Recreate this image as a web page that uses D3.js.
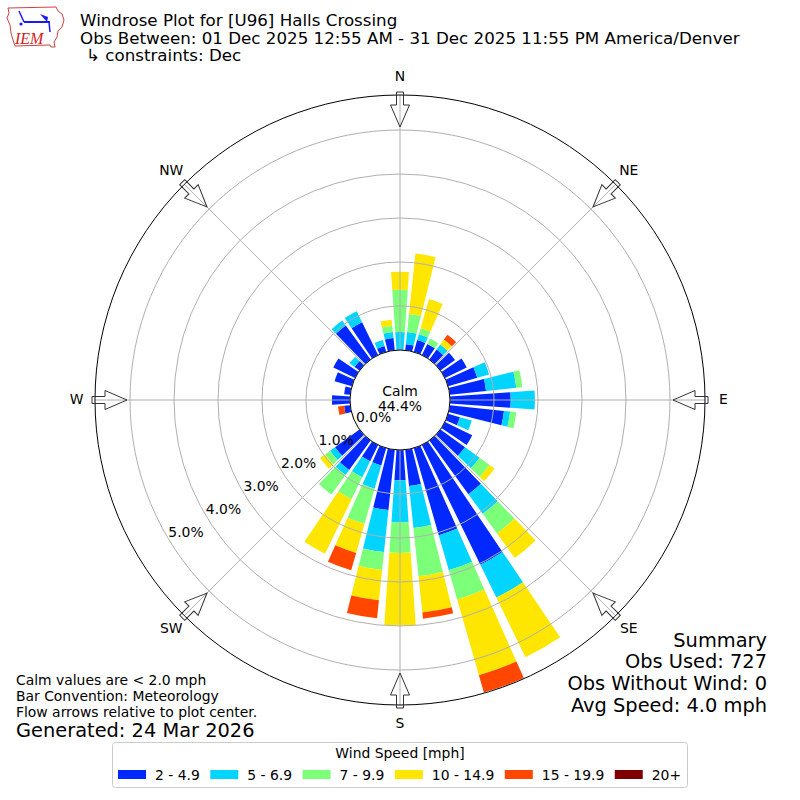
<!DOCTYPE html>
<html>
<head>
<meta charset="utf-8">
<script src="https://cdn.jsdelivr.net/npm/d3@7"></script>
<style>
  body { margin: 0; background: #fff; }
  text { font-family: "DejaVu Sans", sans-serif; fill: #000; }
</style>
</head>
<body>
<script>
// direction bins (degrees, meteorological)
var dirs = [0,10,20,30,40,50,60,70,80,90,100,110,120,130,140,150,160,170,
            180,190,200,210,220,230,240,250,260,270,280,290,300,310,320,330,340,350];

var spd2  = [0,0.14,0.28,0.28,0.28,0.41,0.55,0.69,0.83,1.38,1.24,0.28,0.69,0.69,1.51,3.03,2.06,0.83,
             0.69,1.38,0.41,0.41,0.83,0.69,0,0,0.14,0.41,0.14,0.41,0.55,0.14,0.96,0.83,0.14,0.28];
var spd5  = [0.41,0.28,0.14,0,0.14,0,0,0.28,0.69,0.55,0.14,0.28,0,0.41,0.55,0.83,0.83,0.96,
             0.96,0.96,0.55,0.41,0.14,0.14,0,0,0,0,0,0,0,0.14,0.14,0.28,0.14,0.14];
var spd7  = [0.96,0.41,0.14,0.14,0,0,0,0,0.14,0,0.14,0,0,0.28,0.55,0,0.69,1.10,
             0.69,0.41,0.83,0.55,0.55,0.14,0,0,0,0,0,0,0,0,0,0,0,0.14];
var spd10 = [0.41,1.38,0.69,0,0.14,0,0,0,0,0,0,0,0,0.14,0.69,1.51,1.79,0.83,
             1.65,0.69,0.69,1.38,0,0.14,0,0,0,0,0,0,0,0,0,0,0,0.14];
var spd15 = [0,0,0,0,0.14,0,0,0,0,0,0,0,0,0,0,0,0.41,0.14,
             0,0.41,0.41,0,0,0,0,0,0.14,0,0,0,0,0,0,0,0,0];
var spd20 = [0,0,0,0,0,0,0,0,0,0,0,0,0,0,0,0,0,0,
             0,0,0,0,0,0,0,0,0,0,0,0,0,0,0,0,0,0];

var binLabels = ["2 - 4.9","5 - 6.9","7 - 9.9","10 - 14.9","15 - 19.9","20+"];
var binColors = ["#0028ff","#00d4ff","#7cff79","#ffe600","#ff4700","#7f0000"];

var rTicks = [0,1,2,3,4,5];
var rTickLabels = ["0.0%","1.0%","2.0%","3.0%","4.0%","5.0%"];
var compass = ["N","NE","E","SE","S","SW","W","NW"];
var compassDeg = [0,45,90,135,180,225,270,315];

var calmPct = "44.4%";
var titleLines = ["Windrose Plot for [U96] Halls Crossing",
                  "Obs Between: 01 Dec 2025 12:55 AM - 31 Dec 2025 11:55 PM America/Denver",
                  "\u21b3 constraints: Dec"];
var summaryLines = ["Summary","Obs Used: 727","Obs Without Wind: 0","Avg Speed: 4.0 mph"];
var noteLines = ["Calm values are < 2.0 mph","Bar Convention: Meteorology","Flow arrows relative to plot center."];

var cx = 400, cy = 400, outerR = 305;
var toRad = Math.PI / 180;
var baseFont = "13.9px";

var svg = d3.select("body").append("svg")
    .attr("width", 800)
    .attr("height", 800);

var r = d3.scaleLinear().domain([0, 5]).range([50, 270]);

var keys = ["s2","s5","s7","s10","s15","s20"];
var rows = dirs.map(function(d, i){
    return {dir: d, s2: spd2[i], s5: spd5[i], s7: spd7[i], s10: spd10[i], s15: spd15[i], s20: spd20[i]};
});
var stacked = d3.stack().keys(keys)(rows);

var plot = svg.append("g").attr("transform", "translate(" + cx + "," + cy + ")");

//bars
var arc = d3.arc();
stacked.forEach(function(series, si){
    plot.append("g")
        .selectAll("path")
        .data(series.filter(function(s){ return s[1] - s[0] > 0; }))
        .enter()
        .append("path")
        .attr("fill", binColors[si])
        .attr("d", function(s){
            var a = s.data.dir;
            return arc({
                innerRadius: r(s[0]),
                outerRadius: r(s[1]),
                startAngle: (a - 4) * toRad,
                endAngle: (a + 4) * toRad
            });
        });
});

//grid on top of bars
plot.selectAll("circle.ring")
    .data(rTicks)
    .enter()
    .append("circle")
    .attr("class", "ring")
    .attr("r", function(d){ return r(d); })
    .attr("fill", "none")
    .attr("stroke", "#b0b0b0")
    .attr("stroke-width", 1);

plot.selectAll("line.spoke")
    .data(compassDeg)
    .enter()
    .append("line")
    .attr("x1", 0).attr("y1", 0)
    .attr("x2", function(d){ return outerR * Math.sin(d * toRad); })
    .attr("y2", function(d){ return -outerR * Math.cos(d * toRad); })
    .attr("stroke", "#b0b0b0")
    .attr("stroke-width", 1);

plot.append("circle")
    .attr("r", outerR)
    .attr("fill", "none")
    .attr("stroke", "#000")
    .attr("stroke-width", 1);

//calm circle
plot.append("circle")
    .attr("r", r(0))
    .attr("fill", "#fff")
    .attr("stroke", "#000")
    .attr("stroke-width", 1);
plot.append("text")
    .attr("x", 0).attr("y", -8)
    .attr("text-anchor", "middle")
    .attr("dominant-baseline", "middle")
    .style("font-size", baseFont)
    .text("Calm");
plot.append("text")
    .attr("x", 0).attr("y", 7)
    .attr("text-anchor", "middle")
    .attr("dominant-baseline", "middle")
    .style("font-size", baseFont)
    .text(calmPct);

//radial labels
var labelAngle = 238.5 * toRad;
plot.selectAll("text.rlab")
    .data(rTicks)
    .enter()
    .append("text")
    .attr("class", "rlab")
    .attr("x", function(d){ return (r(d) - 19) * Math.sin(labelAngle); })
    .attr("y", function(d){ return -(r(d) - 19) * Math.cos(labelAngle) + 1.5; })
    .attr("text-anchor", "middle")
    .attr("dominant-baseline", "middle")
    .style("font-size", baseFont)
    .text(function(d, i){ return rTickLabels[i]; });

//flow arrows, pointing inward
var arrowPath = "M-3.5,-308 L3.5,-308 L3.5,-295 L9.5,-295 L0,-273 L-9.5,-295 L-3.5,-295 Z";
plot.selectAll("path.arrow")
    .data(compassDeg)
    .enter()
    .append("path")
    .attr("class", "arrow")
    .attr("d", arrowPath)
    .attr("transform", function(d){ return "rotate(" + d + ")"; })
    .attr("fill", "none")
    .attr("stroke", "#333")
    .attr("stroke-width", 1);

//compass labels
plot.selectAll("text.dir")
    .data(compassDeg)
    .enter()
    .append("text")
    .attr("class", "dir")
    .attr("x", function(d){ return 323.5 * Math.sin(d * toRad); })
    .attr("y", function(d){ return -323.5 * Math.cos(d * toRad); })
    .attr("text-anchor", "middle")
    .attr("dominant-baseline", "middle")
    .style("font-size", baseFont)
    .text(function(d, i){ return compass[i]; });

//title
svg.selectAll("text.title")
    .data(titleLines)
    .enter()
    .append("text")
    .attr("class", "title")
    .attr("x", function(d, i){ return i == 2 ? 86 : 80; })
    .attr("y", function(d, i){ return 26 + i * 17.5; })
    .style("font-size", "16.7px")
    .text(function(d){ return d; });

//summary
svg.selectAll("text.summary")
    .data(summaryLines)
    .enter()
    .append("text")
    .attr("class", "summary")
    .attr("x", 767)
    .attr("y", function(d, i){ return 646.5 + i * 21.7; })
    .attr("text-anchor", "end")
    .style("font-size", "19.4px")
    .text(function(d){ return d; });

//notes
svg.selectAll("text.note")
    .data(noteLines)
    .enter()
    .append("text")
    .attr("class", "note")
    .attr("x", 16)
    .attr("y", function(d, i){ return 684.5 + i * 16; })
    .style("font-size", baseFont)
    .text(function(d){ return d; });
svg.append("text")
    .attr("x", 16).attr("y", 736.5)
    .style("font-size", "19.4px")
    .text("Generated: 24 Mar 2026");

//legend
var legend = svg.append("g");
legend.append("rect")
    .attr("x", 112.5).attr("y", 742.5)
    .attr("width", 575).attr("height", 45)
    .attr("rx", 3)
    .attr("fill", "#fff")
    .attr("stroke", "#cccccc");
legend.append("text")
    .attr("x", 400).attr("y", 757.5)
    .attr("text-anchor", "middle")
    .style("font-size", baseFont)
    .text("Wind Speed [mph]");
var lx = 118;
binLabels.forEach(function(lab, i){
    legend.append("rect")
        .attr("x", lx).attr("y", 770)
        .attr("width", 28).attr("height", 9)
        .attr("fill", binColors[i]);
    var t = legend.append("text")
        .attr("x", lx + 37).attr("y", 779.5)
        .style("font-size", baseFont)
        .text(lab);
    lx = lx + 37 + t.node().getComputedTextLength() + 10.5;
});

//IEM logo
var logo = svg.append("g");
logo.append("path")
    .attr("d", "M8,8 L56,7 L58,11 L62,14 L64,20 L62,27 L58,31 L57,37 L54,42 L55,47 L51,47 L50,45 L15,46 L13,40 L11,33 L10,25 L7,18 L9,13 Z")
    .attr("fill", "none")
    .attr("stroke", "#d04040")
    .attr("stroke-width", 1);
logo.append("line")
    .attr("x1", 24).attr("y1", 22).attr("x2", 50).attr("y2", 22)
    .attr("stroke", "#1a1aff").attr("stroke-width", 2);
logo.append("line")
    .attr("x1", 24).attr("y1", 22).attr("x2", 19).attr("y2", 11)
    .attr("stroke", "#1a1aff").attr("stroke-width", 1.5);
logo.append("path")
    .attr("d", "M40,14 L48,17 L47,22 Z")
    .attr("fill", "#1a1aff");
logo.append("line")
    .attr("x1", 49).attr("y1", 22).attr("x2", 50).attr("y2", 32)
    .attr("stroke", "#1a1aff").attr("stroke-width", 1.5);
logo.append("circle")
    .attr("cx", 21).attr("cy", 24).attr("r", 1.6)
    .attr("fill", "#1a1aff");
logo.append("text")
    .attr("x", 15).attr("y", 44)
    .style("font-family", "'Liberation Serif', serif")
    .style("font-style", "italic")
    .style("font-size", "16px")
    .style("fill", "#d02020")
    .text("IEM");
</script>
</body>
</html>
